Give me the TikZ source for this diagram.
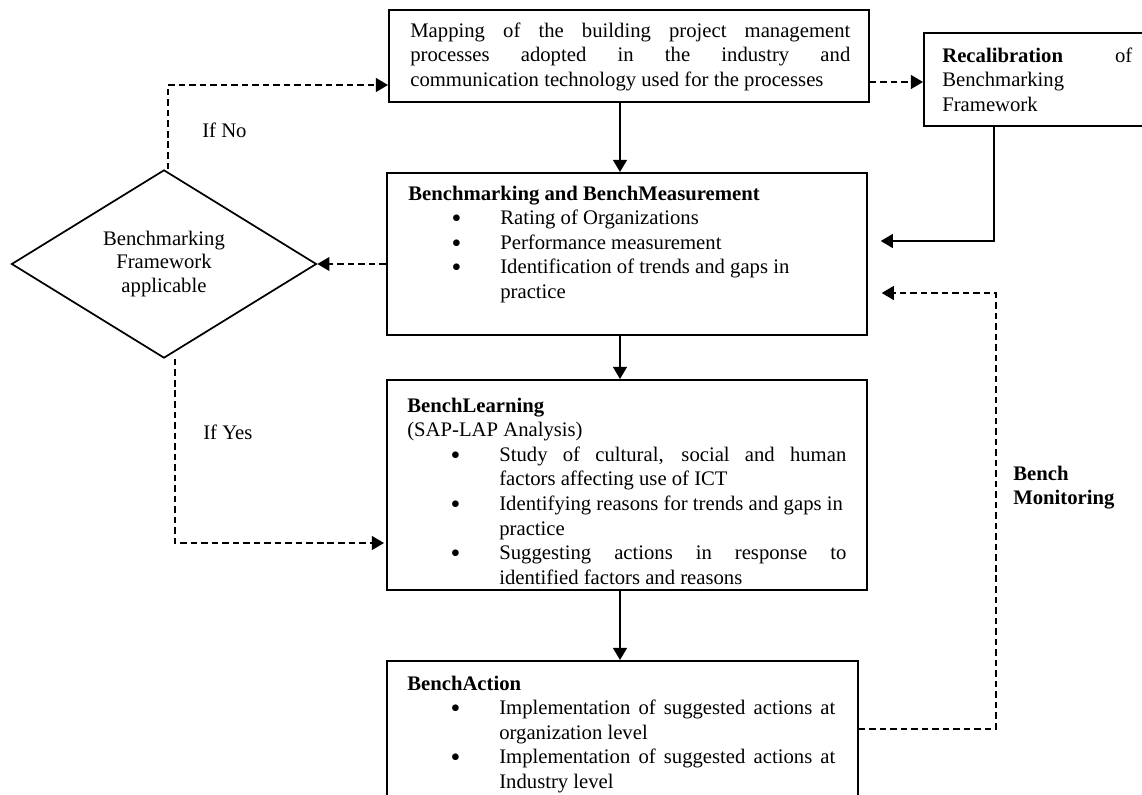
\documentclass[tikz,border=0pt]{standalone}
\usepackage{fontspec}
\setmainfont{Liberation Serif}
\usetikzlibrary{arrows.meta,calc,shapes.geometric}
\newlength\px \setlength\px{0.58pt}
\tolerance=10000 \hbadness=10000 \hyphenpenalty=10000
\newcommand\bul[1]{{\leftskip=92\px\noindent\llap{\smash{\raisebox{-0.13em}{\scalebox{1.35}{\textbullet}}}\hspace{39\px}}#1\par}}
\tikzset{
 box/.style={draw, line width=1pt, anchor=north west, inner sep=0pt},
 txt/.style={anchor=base west, inner sep=0pt, align=justify, font=\fontsize{12}{14.3}\selectfont},
 lbl/.style={anchor=base west, inner sep=0pt, font=\fontsize{12}{14.3}\selectfont},
 solidarrow/.style={line width=1pt, -{Triangle[length=7pt,width=8pt]}},
 dasharrow/.style={line width=1pt, dash pattern=on 3.8pt off 2.3pt, -{Triangle[length=7pt,width=8pt]}},
}
\begin{document}
\begin{tikzpicture}[x=0.58pt,y=-0.58pt]
\useasboundingbox (0,0) rectangle (1142,795);
\clip (0,0) rectangle (1142,795);
\fill[white] (0,0) rectangle (1142,795);

% boxes
\node[box, minimum width=480\px, minimum height=92\px] (map) at (388,9) {};
\node[box, minimum width=240\px, minimum height=93\px] (recal) at (923,32) {};
\node[box, minimum width=480\px, minimum height=162\px] (bm) at (386,172) {};
\node[box, minimum width=480\px, minimum height=210\px] (bl) at (386,379) {};
\node[box, minimum width=471\px, minimum height=160\px] (ba) at (386,660) {};
\node[draw, diamond, line width=1pt, minimum width=305\px, minimum height=184\px, inner sep=0pt,
      align=center, font=\fontsize{12}{13.8}\selectfont] (dia) at (164,264)
      {Benchmarking\\Framework\\applicable};

% texts
\node[txt, text width=440\px] (maptext) at (410,37)
 {Mapping of the building project management\linebreak
  processes adopted in the industry and\linebreak
  communication technology used for the processes};
\node[txt, text width=190\px] (recaltext) at (942,62)
 {\textbf{Recalibration}\hfill of\newline Benchmarking\newline Framework};
\node[txt, text width=440\px] (bmtext) at (408,200)
 {\textbf{Benchmarking and BenchMeasurement}\par
  \bul{Rating of Organizations}
  \bul{Performance measurement}
  \bul{Identification of trends and gaps in\newline practice}};
\node[txt, text width=439\px] (bltext) at (407,412)
 {\textbf{BenchLearning}\newline (SAP-LAP Analysis)\par
  \bul{Study of cultural, social and human\linebreak factors affecting use of ICT}
  \bul{Identifying reasons for trends and gaps in\newline practice}
  \bul{Suggesting actions in response to\linebreak identified factors and reasons}};
\node[txt, text width=428\px] (batext) at (407,690)
 {\textbf{BenchAction}\par
  \bul{Implementation of suggested actions at\linebreak organization level}
  \bul{Implementation of suggested actions at\linebreak Industry level}};

% labels
\node[lbl] (ifno) at (202,137) {If No};
\node[lbl] (ifyes) at (203,439) {If Yes};
\node[lbl, text width=120\px, align=left, font=\fontsize{12}{14.3}\selectfont\bfseries] (mon) at (1013,480) {Bench\\Monitoring};

% connectors
\draw[solidarrow] ($(map.south west)+(232,0)$) -- ($(bm.north west)+(234,0)$);
\draw[solidarrow] ($(bm.south west)+(234,0)$) -- ($(bl.north west)+(234,0)$);
\draw[solidarrow] ($(bl.south west)+(234,0)$) -- ($(ba.north west)+(234,0)$);
\draw[dasharrow] ($(map.north east)+(0,73)$) -- ($(recal.north west)+(0,50)$);
\draw[solidarrow] ($(recal.south west)+(71,0)$) |- ($(bm.north east)+(13,69)$);
\draw[dasharrow] ($(ba.north east)+(0,69)$) -- ++(137,0) |- ($(bm.north east)+(14,121)$);
\draw[dasharrow] ($(bm.north west)+(0,92)$) -- (dia.east);
\draw[dasharrow] ($(dia.north)+(4,0)$) |- ($(map.north west)+(0,76)$);
\draw[dasharrow] ($(dia.south)+(11,0)$) |- ($(bl.north west)+(-2,164)$);
\end{tikzpicture}
\end{document}
